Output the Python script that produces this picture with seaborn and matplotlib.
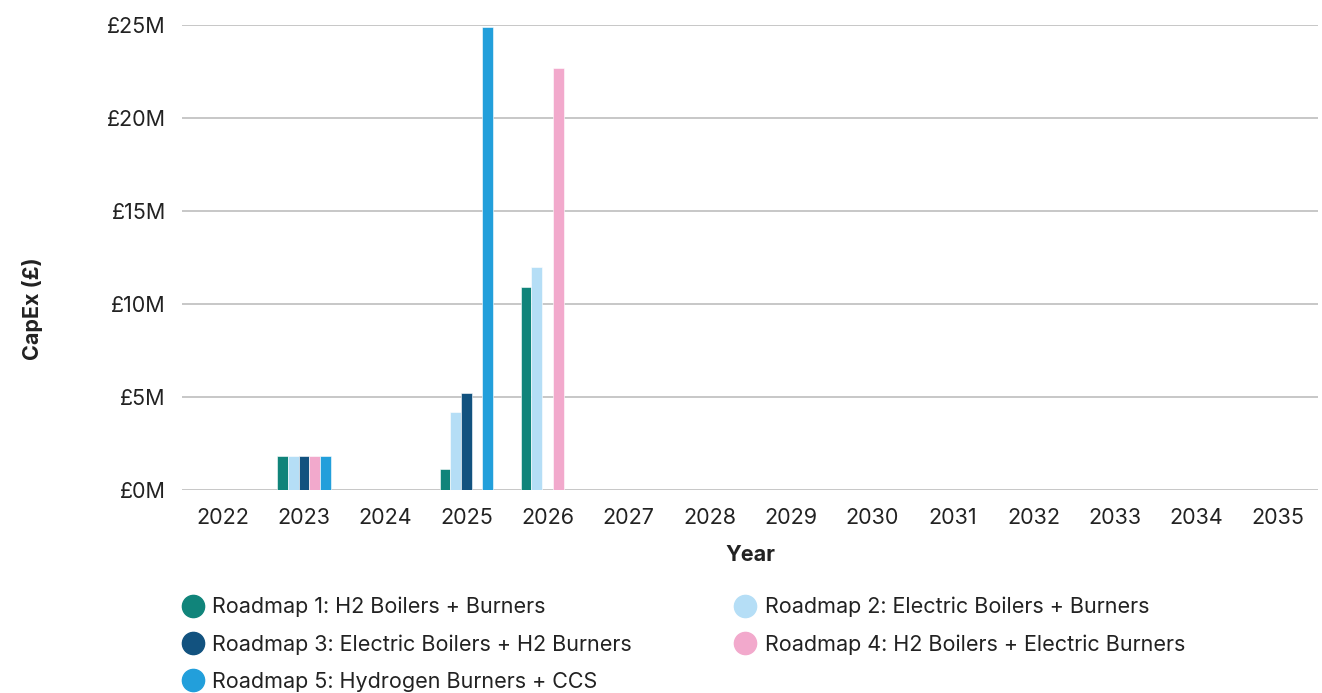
import matplotlib
matplotlib.use("Agg")
import matplotlib.pyplot as plt
from matplotlib.lines import Line2D
from matplotlib.ticker import FuncFormatter
import seaborn as sns
import pandas as pd

years = [str(y) for y in range(2022, 2036)]
roadmaps = [
    "Roadmap 1: H2 Boilers + Burners",
    "Roadmap 2: Electric Boilers + Burners",
    "Roadmap 3: Electric Boilers + H2 Burners",
    "Roadmap 4: H2 Boilers + Electric Burners",
    "Roadmap 5: Hydrogen Burners + CCS",
]
colors = ["#10847A", "#B5DEF6", "#12527F", "#F2A9CC", "#229FDB"]

# CapEx in £ millions per year (2022..2035)
roadmap1 = [0, 1.8, 0, 1.1, 10.9, 0, 0, 0, 0, 0, 0, 0, 0, 0]
roadmap2 = [0, 1.8, 0, 4.2, 12.0, 0, 0, 0, 0, 0, 0, 0, 0, 0]
roadmap3 = [0, 1.8, 0, 5.2, 0, 0, 0, 0, 0, 0, 0, 0, 0, 0]
roadmap4 = [0, 1.8, 0, 0, 22.7, 0, 0, 0, 0, 0, 0, 0, 0, 0]
roadmap5 = [0, 1.8, 0, 24.9, 0, 0, 0, 0, 0, 0, 0, 0, 0, 0]
series = [roadmap1, roadmap2, roadmap3, roadmap4, roadmap5]

rows = []
for name, vals in zip(roadmaps, series):
    for y, v in zip(years, vals):
        rows.append({"Year": y, "Roadmap": name, "CapEx": v})
df = pd.DataFrame(rows)

sns.set_theme(style="white")
plt.rcParams["font.family"] = ["Inter", "DejaVu Sans"]

fig = plt.figure(figsize=(13.22, 6.93), dpi=100)
ax = fig.add_axes([0.138, 0.293, 0.859, 0.671])

sns.barplot(data=df, x="Year", y="CapEx", hue="Roadmap", order=years,
            hue_order=roadmaps, palette=colors, width=0.66, ax=ax,
            legend=False, saturation=1, edgecolor="white", linewidth=0.4)

ax.set_ylim(0, 25)
ax.set_xlim(-0.5, 13.5)
ax.set_yticks([0, 5, 10, 15, 20, 25])
ax.yaxis.set_major_formatter(FuncFormatter(lambda v, _: f"£{int(v)}M"))
ax.yaxis.grid(True, color="#bdbdbd", linewidth=1.2)
ax.set_axisbelow(True)
for s in ax.spines.values():
    s.set_visible(False)
ax.tick_params(axis="both", length=0, labelsize=15.5, colors="#222222")
ax.tick_params(axis="y", pad=12)
ax.tick_params(axis="x", pad=13)

ax.set_xlabel("Year", fontsize=15.5, fontweight="bold", color="#222222", labelpad=12)
ax.set_ylabel("CapEx (£)", fontsize=15.5, fontweight="bold", color="#222222")
ax.yaxis.set_label_coords(-0.123, 0.39)

def handle(c):
    return Line2D([], [], marker="o", linestyle="", markersize=16,
                  markerfacecolor=c, markeredgecolor=c)

left_idx = [0, 2, 4]
right_idx = [1, 3]
kw = dict(loc="upper left", frameon=False, fontsize=15.5, handletextpad=0.4,
          labelspacing=0.79, borderaxespad=0, handlelength=1.0,
          labelcolor="#222222")
leg1 = fig.legend([handle(colors[i]) for i in left_idx],
                  [roadmaps[i] for i in left_idx],
                  bbox_to_anchor=(0.131, 0.151), **kw)
leg2 = fig.legend([handle(colors[i]) for i in right_idx],
                  [roadmaps[i] for i in right_idx],
                  bbox_to_anchor=(0.549, 0.151), **kw)

fig.savefig("out.png", dpi=100)
